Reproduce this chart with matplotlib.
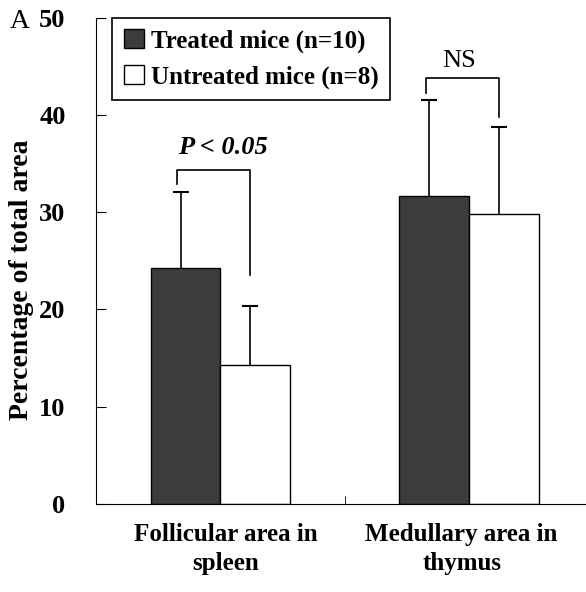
import numpy as np
import matplotlib
matplotlib.use('Agg')
import matplotlib.pyplot as plt
from matplotlib.patches import Patch

# data
categories = ['Follicular area in\nspleen', 'Medullary area in\nthymus']
treated = [24.3, 31.7]
treated_err = [7.8, 9.8]
untreated = [14.3, 29.8]
untreated_err = [6.0, 9.0]
series_labels = ['Treated mice (n=10)', 'Untreated mice (n=8)']
p_labels = ['P < 0.05', 'NS']

plt.rcParams['font.family'] = 'Liberation Serif'
plt.rcParams['font.weight'] = 'bold'

fig = plt.figure(figsize=(5.86, 5.92), dpi=100)
ax = fig.add_axes([0.164, 0.149, 0.836, 0.821])

x = np.arange(len(categories))
w = 0.28
ax.bar(x - w/2, treated, w, color='#3c3c3c', edgecolor='black', linewidth=1)
ax.bar(x + w/2, untreated, w, color='white', edgecolor='black', linewidth=1)

# upper error bars only
for xs, ys, es in [(x - w/2 - 0.02, treated, treated_err),
                   (x + w/2 - 0.02, untreated, untreated_err)]:
    eb = ax.errorbar(xs, ys, yerr=[np.zeros(2), es], fmt='none', ecolor='black',
                     elinewidth=1.2, capsize=6, capthick=1.5)
    eb[1][0].set_visible(False)

# significance brackets
tops = [34.3, 43.8]
left_end = [32.9, 42.3]
right_end = [23.5, 39.8]
for i in range(2):
    xl = x[i] - w/2 - 0.035
    xr = x[i] + w/2 - 0.02
    ax.plot([xl, xl, xr, xr], [left_end[i], tops[i], tops[i], right_end[i]],
            color='black', lw=1.2)
ax.text(x[0] + 0.01, 36.7, p_labels[0], ha='center', va='center', fontsize=19,
        style='italic', fontweight='bold')
ax.text(x[1] - 0.04, 45.6, p_labels[1], ha='center', va='center', fontsize=19,
        fontweight='normal')

ax.set_xlim(-0.5, 1.47)
ax.set_ylim(0, 50)
ax.set_yticks(range(0, 51, 10))
ax.set_xticks([0.02, 0.97])
ax.set_xticklabels(categories, fontsize=18, linespacing=1.3)
ax.set_xticks([0.5], minor=True)
ax.tick_params(axis='x', which='major', length=0, pad=14)
ax.tick_params(axis='x', which='minor', direction='in', length=6)
ax.tick_params(axis='y', direction='in', length=7, labelsize=19, pad=22)
ax.spines['top'].set_visible(False)
ax.spines['right'].set_visible(False)
ax.set_ylabel('Percentage of total area', fontsize=20, fontweight='bold')
ax.yaxis.set_label_coords(-0.127, 0.46)

handles = [Patch(facecolor='#3c3c3c', edgecolor='black'),
           Patch(facecolor='white', edgecolor='black')]
leg = ax.legend(handles, series_labels, loc='upper left', bbox_to_anchor=(0.033, 1.0),
                borderaxespad=0, fancybox=False, edgecolor='black', framealpha=1,
                fontsize=18, handlelength=0.8, handleheight=0.8, handletextpad=0.3,
                borderpad=0.45, labelspacing=0.5)
leg.get_frame().set_linewidth(1.2)

fig.text(0.017, 0.963, 'A', fontsize=20, fontweight='normal', va='center')

fig.savefig('out.png', dpi=100)
